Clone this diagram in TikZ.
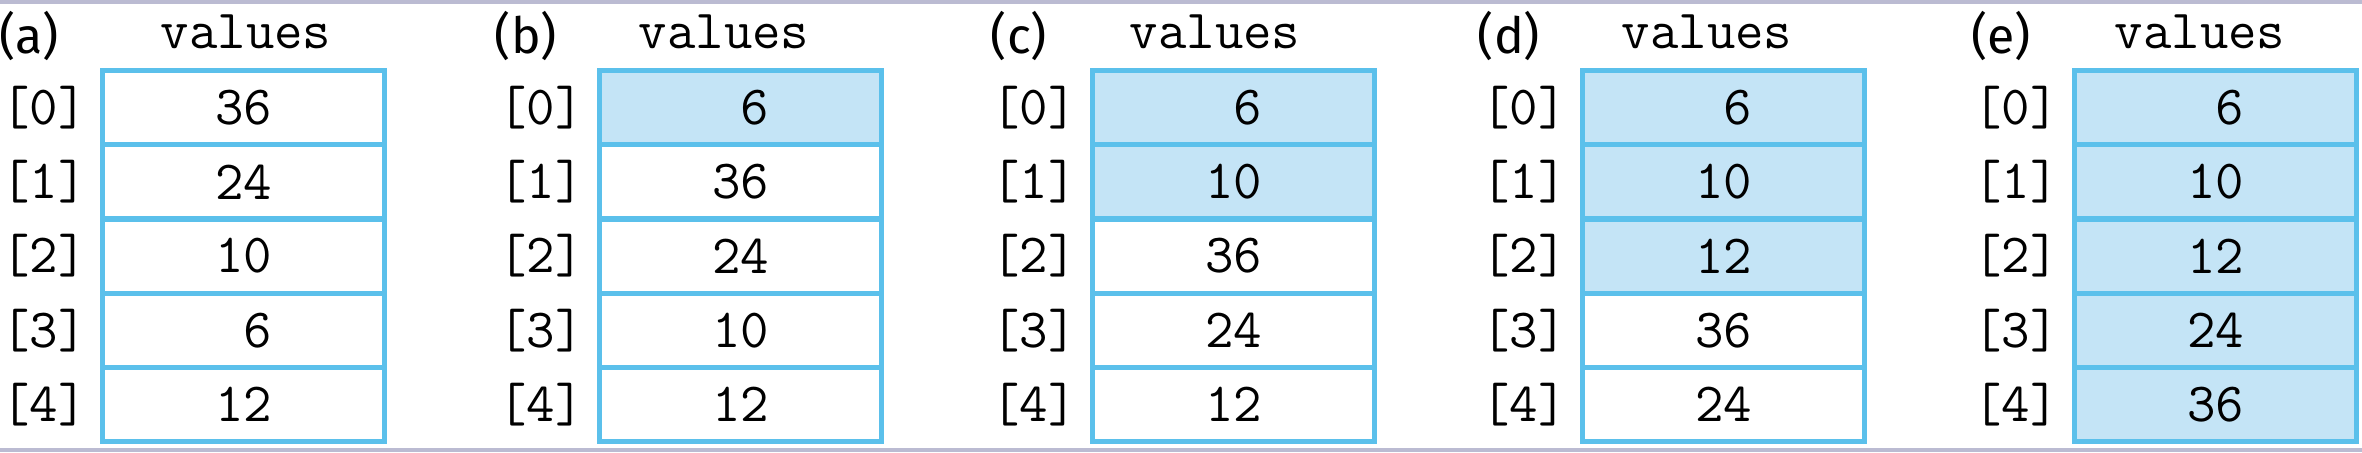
\documentclass[tikz,border=0pt]{standalone}
\usepackage{fontspec}
\setmainfont{Fira Sans}
\definecolor{cellline}{HTML}{5BC0EB}
\definecolor{cellfill}{HTML}{C4E4F6}
\definecolor{pagerule}{HTML}{BBBBD2}
\newcommand\sixcell{\hphantom{0}6}
\tikzset{
  cell/.style={draw=cellline, line width=1.3pt, minimum width=70.5pt,
    minimum height=18.55pt, inner sep=0pt, font=\fontsize{13.8}{15}\ttfamily},
  index/.style={inner sep=0pt, font=\fontsize{13.8}{15}\ttfamily},
  header/.style={anchor=base, inner sep=0pt, font=\fontsize{13.8}{15}\ttfamily},
  panel/.style={anchor=base, inner sep=0pt, font=\fontsize{12.5}{14}\selectfont}
}

\begin{document}
\begin{tikzpicture}[x=0.25pt, y=-0.25pt]
	% page and the two thin rules
	\useasboundingbox (0,0) rectangle (2362,452);
	\fill[white] (0,0) rectangle (2362,452);
	\fill[pagerule] (0,0) rectangle (2362,4);
	\fill[pagerule] (0,448) rectangle (2362,452);
	% one array per step, the first \n cells are sorted
	\foreach \p/\L/\h/\n/\vals in {a/100/146/0/{36,24,10,\sixcell,12},
		b/597/127/1/{\sixcell,36,24,10,12},
		c/1090/125/2/{\sixcell,10,36,24,12},
		d/1580/127/3/{\sixcell,10,12,36,24},
		e/2072/128/5/{\sixcell,10,12,24,36}}{
		\node[panel] (\p-lab) at (\L-71,53) {(\p)};
		\node[header] (\p-head) at (\L+\h,48) {values};
		\foreach \v [count=\i from 0] in \vals {
			\ifnum\i<\n \def\cf{cellfill}\else \def\cf{white}\fi
			\node[index] (\p-i\i) at (\L-56,107.6+74.2*\i) {[\i]};
			\node[cell, fill=\cf] (\p\i) at (\L+143.5,107.6+74.2*\i) {\v};
		}
	}
\end{tikzpicture}
\end{document}
